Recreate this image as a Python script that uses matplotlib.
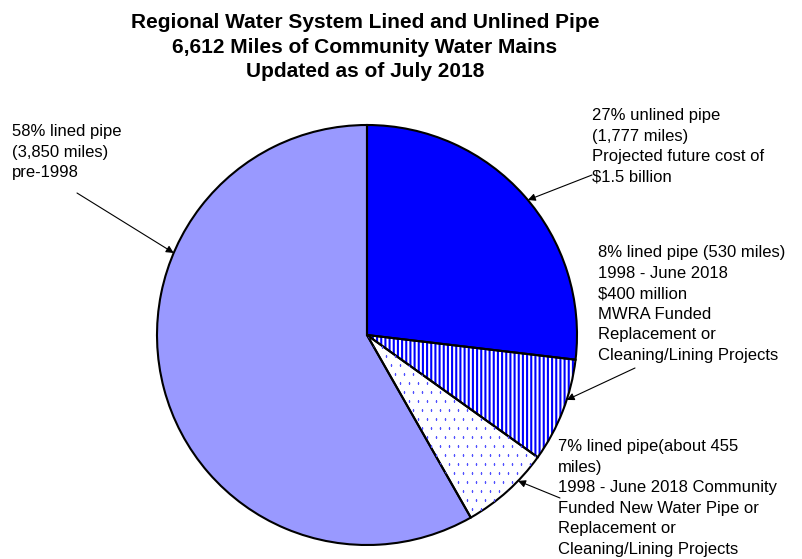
import numpy as np
import matplotlib
matplotlib.use('Agg')
import matplotlib.pyplot as plt

plt.rcParams['font.family'] = ['Liberation Sans', 'DejaVu Sans']
plt.rcParams['hatch.linewidth'] = 1.5

# Data (miles of pipe)
segments = ['unlined', 'mwra_lined', 'community_lined', 'pre1998_lined']
miles = [1777, 530, 455, 3850]
colors = ['#0000FF', 'white', 'white', '#9999FF']
hatches = [None, '||||', None, None]
labels = [
    '27% unlined pipe\n(1,777 miles)\nProjected future cost of\n$1.5 billion',
    '8% lined pipe (530 miles)\n1998 - June 2018\n$400 million\nMWRA Funded\nReplacement or\nCleaning/Lining Projects',
    '7% lined pipe(about 455\nmiles)\n1998 - June 2018 Community\nFunded New Water Pipe or\nReplacement or\nCleaning/Lining Projects',
    '58% lined pipe\n(3,850 miles)\npre-1998',
]
title = ('Regional Water System Lined and Unlined Pipe\n'
         '6,612 Miles of Community Water Mains\n'
         'Updated as of July 2018')

W, H = 802, 559
fig = plt.figure(figsize=(W / 100, H / 100), dpi=100)

# pie placed by pixel box: center (367, 335), radius 210
cx, cy, r = 367, 335, 210
ax = fig.add_axes([(cx - r) / W, (H - cy - r) / H, 2 * r / W, 2 * r / H])

wedges, _ = ax.pie(miles, colors=colors, startangle=90, counterclock=False,
                   wedgeprops=dict(linewidth=0))
wedges[1].set_hatch(hatches[1])
wedges[1].set_edgecolor('#0000FF')

# sparse dot pattern for the community-funded slice
step = 9 / r
gx, gy = np.meshgrid(np.arange(-1, 1, step), np.arange(-1, 1, step))
gx[1::2] += step / 2
dots, = ax.plot(gx.ravel(), gy.ravel(), 's', ms=1.1, mew=0, color='#5050FF')
dots.set_clip_path(wedges[2])

# black outlines on top
ax.pie(miles, startangle=90, counterclock=False,
       wedgeprops=dict(fill=False, edgecolor='black', linewidth=1.5))
ax.set_xlim(-1, 1)
ax.set_ylim(-1, 1)
ax.set_aspect('auto')
ax.axis('off')

fig.text(365 / W, 1 - 13 / H, title, ha='center', va='top', fontsize=15,
         fontweight='bold', linespacing=1.38)

# label positions (top-left of text, pixels) and arrow start / target angle
label_pos = [(592, 108), (598, 245), (558, 439), (12, 124)]
arrow_start = [(592, 175), (635, 368), (560, 498), (77, 193)]
arrow_angle = [40, -18, -44, 157]

for lab, (tx, ty), (sx, sy), ang in zip(labels, label_pos, arrow_start, arrow_angle):
    fig.text(tx / W, 1 - ty / H, lab, ha='left', va='top', fontsize=12,
             linespacing=1.46)
    a = np.deg2rad(ang)
    ax.annotate('', xy=(np.cos(a), np.sin(a)), xycoords='data',
                xytext=(sx, H - sy), textcoords='figure pixels',
                arrowprops=dict(arrowstyle='-|>', color='black', lw=0.8,
                                mutation_scale=11, shrinkA=0, shrinkB=0))

fig.savefig('out.png', dpi=100)
